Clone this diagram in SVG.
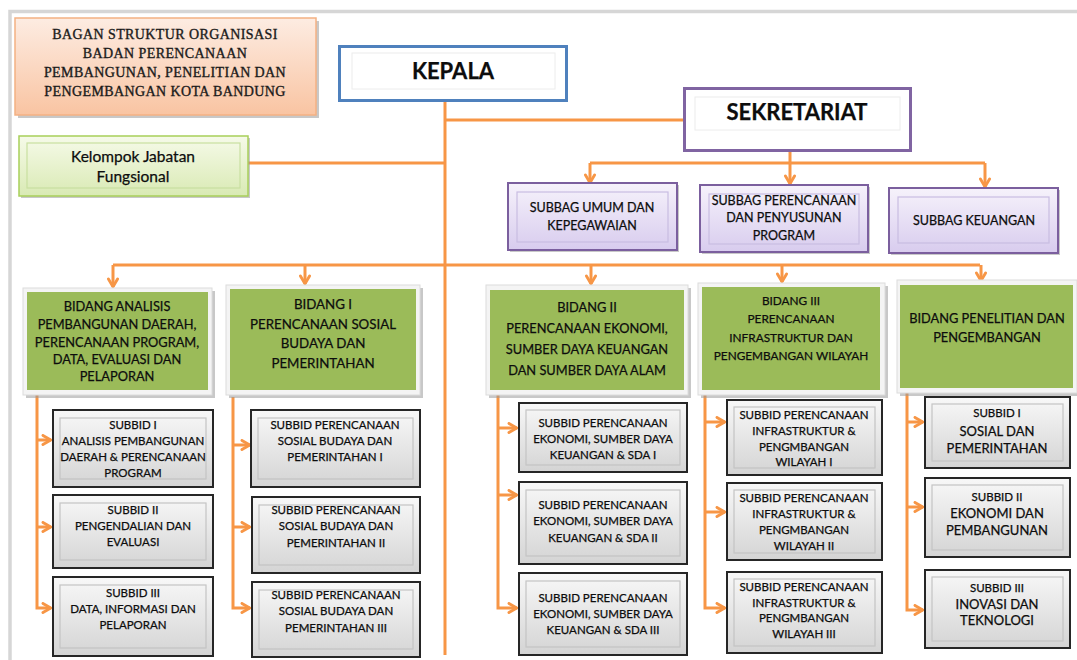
<svg xmlns="http://www.w3.org/2000/svg" width="1077" height="660" viewBox="0 0 1077 660">
<style>
.t{font-family:Lato,"Liberation Sans",sans-serif;fill:#0d0d0d;stroke:#0d0d0d;stroke-width:0.25px;text-anchor:middle}
.ttl{font-family:"Liberation Serif",serif;font-size:14px;letter-spacing:0.4px;fill:#1a1a1a;stroke:#1a1a1a;stroke-width:0.35px;text-anchor:middle}
.big{font-size:22px;font-weight:bold}
.sb{font-size:12.5px}
.bd{font-size:12.8px}
.sd{font-size:11.5px}
.sd2{font-size:13px}
.con{fill:none;stroke:#f79646;stroke-width:3}
.arr{fill:none;stroke:#f79646;stroke-width:3;marker-end:url(#arr)}
.sh{fill:#9a9a9a;opacity:0.55}
.bidO{fill:#f4f4f4;stroke:#dcdcdc;stroke-width:1}
.bidI{fill:#9bbb59}
.sub{fill:url(#gGray);stroke:#262626;stroke-width:2}
.subI{fill:none;stroke:#c4c4c4;stroke-width:1.2}
.sbg{fill:url(#gLav);stroke:#7b5f9e;stroke-width:2}
.sbgI{fill:none;stroke:#c9bde2;stroke-width:1.2}
</style>
<defs>
<linearGradient id="gPeach" x1="0" y1="0" x2="0" y2="1"><stop offset="0" stop-color="#fdece2"/><stop offset="1" stop-color="#f9c4a2"/></linearGradient>
<linearGradient id="gGreen" x1="0" y1="0" x2="0" y2="1"><stop offset="0" stop-color="#f6fae9"/><stop offset="1" stop-color="#d9eab4"/></linearGradient>
<linearGradient id="gLav" x1="0" y1="0" x2="0" y2="1"><stop offset="0" stop-color="#f6f2fb"/><stop offset="1" stop-color="#d8ccee"/></linearGradient>
<linearGradient id="gGray" x1="0" y1="0" x2="0" y2="1"><stop offset="0" stop-color="#f8f8f8"/><stop offset="1" stop-color="#d4d4d4"/></linearGradient>
<marker id="arr" viewBox="0 0 10 10" refX="8.2" refY="5" markerWidth="12" markerHeight="12" markerUnits="userSpaceOnUse" orient="auto">
<path d="M1.5,1.2 L8,5 L1.5,8.8" fill="none" stroke="#f79646" stroke-width="2.4" stroke-linecap="round" stroke-linejoin="round"/>
</marker>
</defs>
<rect x="0" y="0" width="1077" height="660" fill="#ffffff"/>
<rect x="10" y="11.5" width="1085" height="670" fill="none" stroke="#d6d6d6" stroke-width="3.5"/>

<g id="connectors">
<path class="con" d="M445,102 V655"/>
<path class="con" d="M445,120 H683"/>
<path class="con" d="M248,163 H445"/>
<path class="con" d="M790,152 V163 M590,163 H985"/>
<path class="arr" d="M590,163 V183"/>
<path class="arr" d="M790,163 V184"/>
<path class="arr" d="M985,163 V187"/>
<path class="con" d="M113,265 H980"/>
<path class="arr" d="M113,265 V287"/>
<path class="arr" d="M305,265 V284"/>
<path class="arr" d="M591,265 V284"/>
<path class="arr" d="M782,265 V282"/>
<path class="arr" d="M981,265 V281"/>
<path class="arr" d="M37,395 V608 H51"/>
<path class="arr" d="M37,440 H51"/>
<path class="arr" d="M37,527 H51"/>
<path class="arr" d="M233,397 V608 H250"/>
<path class="arr" d="M233,445 H250"/>
<path class="arr" d="M233,527 H250"/>
<path class="arr" d="M498,395 V608 H517"/>
<path class="arr" d="M498,428 H517"/>
<path class="arr" d="M498,495 H517"/>
<path class="arr" d="M705,395 V608 H725"/>
<path class="arr" d="M705,422 H725"/>
<path class="arr" d="M705,512 H725"/>
<path class="arr" d="M907,393 V610 H923"/>
<path class="arr" d="M907,422 H923"/>
<path class="arr" d="M907,507 H923"/>
</g>

<g id="title">
<rect class="sh" x="18" y="21" width="301" height="97"/>
<rect x="15" y="18" width="301" height="97" fill="url(#gPeach)" stroke="#f4b183" stroke-width="1.5"/>
<text class="ttl" x="165" y="39">BAGAN STRUKTUR ORGANISASI</text>
<text class="ttl" x="165" y="58">BADAN PERENCANAAN</text>
<text class="ttl" x="165" y="77">PEMBANGUNAN, PENELITIAN DAN</text>
<text class="ttl" x="165" y="96">PENGEMBANGAN KOTA BANDUNG</text>
</g>

<g id="kelompok">
<rect class="sh" x="21" y="138" width="229" height="60"/>
<rect x="19" y="136" width="229" height="60" fill="url(#gGreen)" stroke="#a8cf5a" stroke-width="1.5"/>
<rect x="27" y="143" width="213" height="45" fill="none" stroke="#c9dfa0" stroke-width="1.2"/>
<text class="t" x="133" y="162" style="font-size:15.5px">Kelompok Jabatan</text>
<text class="t" x="133" y="182" style="font-size:15.5px">Fungsional</text>
</g>

<g id="kepala">
<rect x="339.5" y="46.5" width="227" height="54" fill="#ffffff" stroke="#4f81bd" stroke-width="3"/>
<rect x="352" y="53" width="203" height="36" fill="none" stroke="#ececec" stroke-width="1"/>
<text class="t big" x="453" y="79">KEPALA</text>
</g>

<g id="sekretariat">
<rect x="684.5" y="88.5" width="226" height="62" fill="#ffffff" stroke="#8064a2" stroke-width="3"/>
<rect x="695" y="97" width="205" height="33" fill="none" stroke="#ececec" stroke-width="1"/>
<text class="t big" x="797" y="120">SEKRETARIAT</text>
</g>

<g id="subbag-umum">
<rect class="sh" x="510" y="185" width="169" height="67"/>
<rect class="sbg" x="508" y="183" width="169" height="67"/>
<rect class="sbgI" x="517" y="192" width="151" height="50"/>
<text class="t sb" x="592" y="212">SUBBAG UMUM DAN</text>
<text class="t sb" x="592" y="230">KEPEGAWAIAN</text>
</g>

<g id="subbag-perencanaan">
<rect class="sh" x="702" y="187" width="168" height="67"/>
<rect class="sbg" x="700" y="185" width="168" height="67"/>
<rect class="sbgI" x="709" y="194" width="150" height="50"/>
<text class="t sb" x="784" y="205">SUBBAG PERENCANAAN</text>
<text class="t sb" x="784" y="222">DAN PENYUSUNAN</text>
<text class="t sb" x="784" y="240">PROGRAM</text>
</g>

<g id="subbag-keuangan">
<rect class="sh" x="891" y="190" width="169" height="65"/>
<rect class="sbg" x="889" y="188" width="169" height="65"/>
<rect class="sbgI" x="898" y="197" width="151" height="46"/>
<text class="t sb" x="974" y="225">SUBBAG KEUANGAN</text>
</g>

<g id="bidang-analisis">
<rect class="sh" x="26" y="291" width="189" height="107"/>
<rect class="bidO" x="23" y="288" width="189" height="107"/>
<rect class="bidI" x="27" y="292" width="181" height="98"/>
<text class="t bd" x="117" y="311">BIDANG ANALISIS</text>
<text class="t bd" x="117" y="329">PEMBANGUNAN DAERAH,</text>
<text class="t bd" x="117" y="347">PERENCANAAN PROGRAM,</text>
<text class="t bd" x="117" y="364">DATA, EVALUASI DAN</text>
<text class="t bd" x="117" y="381">PELAPORAN</text>
</g>

<g id="bidang-1">
<rect class="sh" x="229" y="288" width="194" height="110"/>
<rect class="bidO" x="226" y="285" width="194" height="110"/>
<rect class="bidI" x="230" y="289" width="186" height="101"/>
<text class="t" x="323" y="309" style="font-size:13.3px">BIDANG I</text>
<text class="t" x="323" y="329" style="font-size:13.3px">PERENCANAAN SOSIAL</text>
<text class="t" x="323" y="348" style="font-size:13.3px">BUDAYA DAN</text>
<text class="t" x="323" y="368" style="font-size:13.3px">PEMERINTAHAN</text>
</g>

<g id="bidang-2">
<rect class="sh" x="489" y="288" width="202" height="110"/>
<rect class="bidO" x="486" y="285" width="202" height="110"/>
<rect class="bidI" x="490" y="290" width="194" height="100"/>
<text class="t bd" x="587" y="312">BIDANG II</text>
<text class="t bd" x="587" y="333">PERENCANAAN EKONOMI,</text>
<text class="t bd" x="587" y="354">SUMBER DAYA KEUANGAN</text>
<text class="t bd" x="587" y="375">DAN SUMBER DAYA ALAM</text>
</g>

<g id="bidang-3">
<rect class="sh" x="701" y="286" width="187" height="112"/>
<rect class="bidO" x="698" y="283" width="187" height="112"/>
<rect class="bidI" x="702" y="287" width="178" height="103"/>
<text class="t" x="791" y="305" style="font-size:11.8px">BIDANG III</text>
<text class="t" x="791" y="323" style="font-size:11.8px">PERENCANAAN</text>
<text class="t" x="791" y="342" style="font-size:11.8px">INFRASTRUKTUR DAN</text>
<text class="t" x="791" y="360" style="font-size:11.8px">PENGEMBANGAN WILAYAH</text>
</g>

<g id="bidang-penelitian">
<rect class="sh" x="900" y="283" width="180" height="113"/>
<rect class="bidO" x="897" y="280" width="180" height="113"/>
<rect class="bidI" x="900" y="285" width="173" height="103"/>
<text class="t bd" x="987" y="323">BIDANG PENELITIAN DAN</text>
<text class="t bd" x="987" y="342">PENGEMBANGAN</text>
</g>

<g id="subbid-analisis-1">
<rect class="sub" x="53" y="410" width="160" height="77"/>
<rect class="subI" x="60" y="418" width="146" height="61"/>
<text class="t sd" x="133" y="429">SUBBID I</text>
<text class="t sd" x="133" y="445">ANALISIS PEMBANGUNAN</text>
<text class="t sd" x="133" y="461">DAERAH &amp; PERENCANAAN</text>
<text class="t sd" x="133" y="477">PROGRAM</text>
</g>
<g id="subbid-analisis-2">
<rect class="sub" x="53" y="495" width="160" height="73"/>
<rect class="subI" x="60" y="503" width="146" height="57"/>
<text class="t sd" x="133" y="514">SUBBID II</text>
<text class="t sd" x="133" y="530">PENGENDALIAN DAN</text>
<text class="t sd" x="133" y="546">EVALUASI</text>
</g>
<g id="subbid-analisis-3">
<rect class="sub" x="53" y="577" width="160" height="79"/>
<rect class="subI" x="60" y="585" width="146" height="63"/>
<text class="t sd" x="133" y="597">SUBBID III</text>
<text class="t sd" x="133" y="613">DATA, INFORMASI DAN</text>
<text class="t sd" x="133" y="629">PELAPORAN</text>
</g>

<g id="subbid-sosial-1">
<rect class="sub" x="251" y="410" width="169" height="77"/>
<rect class="subI" x="258" y="418" width="155" height="61"/>
<text class="t sd" x="335" y="429">SUBBID PERENCANAAN</text>
<text class="t sd" x="335" y="445">SOSIAL BUDAYA DAN</text>
<text class="t sd" x="335" y="461">PEMERINTAHAN I</text>
</g>
<g id="subbid-sosial-2">
<rect class="sub" x="252" y="497" width="168" height="76"/>
<rect class="subI" x="259" y="505" width="154" height="60"/>
<text class="t sd" x="336" y="514">SUBBID PERENCANAAN</text>
<text class="t sd" x="336" y="530">SOSIAL BUDAYA DAN</text>
<text class="t sd" x="336" y="547">PEMERINTAHAN II</text>
</g>
<g id="subbid-sosial-3">
<rect class="sub" x="252" y="582" width="168" height="75"/>
<rect class="subI" x="259" y="590" width="154" height="59"/>
<text class="t sd" x="336" y="599">SUBBID PERENCANAAN</text>
<text class="t sd" x="336" y="615">SOSIAL BUDAYA DAN</text>
<text class="t sd" x="336" y="632">PEMERINTAHAN III</text>
</g>

<g id="subbid-ekonomi-1">
<rect class="sub" x="519" y="403" width="168" height="69"/>
<rect class="subI" x="526" y="410" width="154" height="55"/>
<text class="t sd" x="603" y="427">SUBBID PERENCANAAN</text>
<text class="t sd" x="603" y="443">EKONOMI, SUMBER DAYA</text>
<text class="t sd" x="603" y="459">KEUANGAN &amp; SDA I</text>
</g>
<g id="subbid-ekonomi-2">
<rect class="sub" x="519" y="482" width="168" height="82"/>
<rect class="subI" x="526" y="490" width="154" height="66"/>
<text class="t sd" x="603" y="509">SUBBID PERENCANAAN</text>
<text class="t sd" x="603" y="525">EKONOMI, SUMBER DAYA</text>
<text class="t sd" x="603" y="542">KEUANGAN &amp; SDA II</text>
</g>
<g id="subbid-ekonomi-3">
<rect class="sub" x="519" y="573" width="168" height="82"/>
<rect class="subI" x="526" y="581" width="154" height="66"/>
<text class="t sd" x="603" y="602">SUBBID PERENCANAAN</text>
<text class="t sd" x="603" y="618">EKONOMI, SUMBER DAYA</text>
<text class="t sd" x="603" y="634">KEUANGAN &amp; SDA III</text>
</g>

<g id="subbid-infra-1">
<rect class="sub" x="727" y="400" width="155" height="75"/>
<rect class="subI" x="734" y="407" width="141" height="61"/>
<text class="t sd" x="804" y="419">SUBBID PERENCANAAN</text>
<text class="t sd" x="804" y="435">INFRASTRUKTUR &amp;</text>
<text class="t sd" x="804" y="451">PENGMBANGAN</text>
<text class="t sd" x="804" y="466">WILAYAH I</text>
</g>
<g id="subbid-infra-2">
<rect class="sub" x="727" y="483" width="155" height="77"/>
<rect class="subI" x="734" y="490" width="141" height="63"/>
<text class="t sd" x="804" y="502">SUBBID PERENCANAAN</text>
<text class="t sd" x="804" y="518">INFRASTRUKTUR &amp;</text>
<text class="t sd" x="804" y="534">PENGMBANGAN</text>
<text class="t sd" x="804" y="550">WILAYAH II</text>
</g>
<g id="subbid-infra-3">
<rect class="sub" x="727" y="572" width="155" height="81"/>
<rect class="subI" x="734" y="579" width="141" height="67"/>
<text class="t sd" x="804" y="591">SUBBID PERENCANAAN</text>
<text class="t sd" x="804" y="607">INFRASTRUKTUR &amp;</text>
<text class="t sd" x="804" y="622">PENGMBANGAN</text>
<text class="t sd" x="804" y="638">WILAYAH III</text>
</g>

<g id="subbid-litbang-1">
<rect class="sub" x="925" y="397" width="145" height="71"/>
<rect class="subI" x="932" y="404" width="131" height="57"/>
<text class="t sd" x="997" y="417">SUBBID I</text>
<text class="t sd2" x="997" y="436">SOSIAL DAN</text>
<text class="t sd2" x="997" y="453">PEMERINTAHAN</text>
</g>
<g id="subbid-litbang-2">
<rect class="sub" x="925" y="478" width="145" height="79"/>
<rect class="subI" x="932" y="485" width="131" height="65"/>
<text class="t sd" x="997" y="501">SUBBID II</text>
<text class="t sd2" x="997" y="518">EKONOMI DAN</text>
<text class="t sd2" x="997" y="535">PEMBANGUNAN</text>
</g>
<g id="subbid-litbang-3">
<rect class="sub" x="925" y="570" width="145" height="78"/>
<rect class="subI" x="932" y="577" width="131" height="64"/>
<text class="t sd" x="997" y="592">SUBBID III</text>
<text class="t sd2" x="997" y="609">INOVASI DAN</text>
<text class="t sd2" x="997" y="625">TEKNOLOGI</text>
</g>
</svg>
